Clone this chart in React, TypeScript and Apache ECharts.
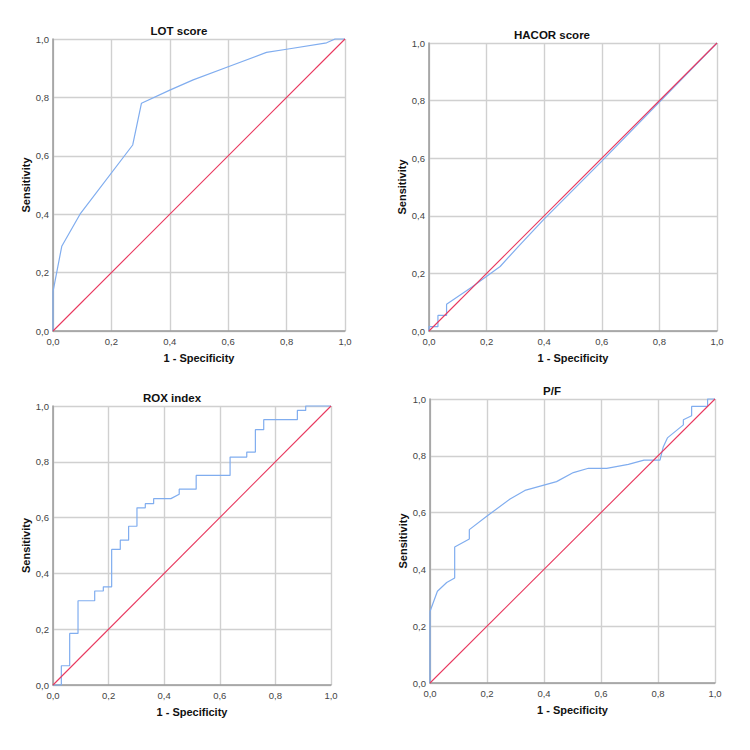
import React, { useEffect, useRef } from "react";
import * as echarts from "echarts";

const panelTitles = ["LOT score", "HACOR score", "ROX index", "P/F"];
const tickLabels = ["0,0", "0,2", "0,4", "0,6", "0,8", "1,0"];

const lotFpr = [0, 0, 0.03, 0.0925, 0.273, 0.303, 0.4, 0.48, 0.6, 0.731, 0.8, 0.937, 0.966, 1.0];
const lotTpr = [0, 0.135, 0.29, 0.4, 0.637, 0.78, 0.825, 0.86, 0.905, 0.954, 0.965, 0.987, 1.0, 1.0];

const hacorFpr = [0, 0, 0.031, 0.031, 0.061, 0.061, 0.148, 0.247, 0.31, 0.397, 0.6, 0.8, 1.0];
const hacorTpr = [0, 0.015, 0.015, 0.054, 0.054, 0.093, 0.152, 0.224, 0.293, 0.386, 0.59, 0.795, 1.0];

const roxFpr = [0, 0.03, 0.03, 0.06, 0.06, 0.09, 0.09, 0.15, 0.15, 0.181, 0.181, 0.211, 0.211, 0.242, 0.242, 0.272, 0.272, 0.302, 0.302, 0.332, 0.332, 0.362, 0.362, 0.424, 0.454, 0.454, 0.515, 0.515, 0.637, 0.637, 0.697, 0.697, 0.728, 0.728, 0.758, 0.758, 0.879, 0.879, 0.909, 0.909, 1.0];
const roxTpr = [0, 0, 0.069, 0.069, 0.185, 0.185, 0.302, 0.302, 0.337, 0.337, 0.352, 0.352, 0.486, 0.486, 0.519, 0.519, 0.569, 0.569, 0.635, 0.635, 0.65, 0.65, 0.668, 0.668, 0.684, 0.702, 0.702, 0.751, 0.751, 0.817, 0.817, 0.835, 0.835, 0.915, 0.915, 0.951, 0.951, 0.984, 0.984, 1.0, 1.0];

const pfFpr = [0, 0, 0.026, 0.0586, 0.0866, 0.0866, 0.138, 0.138, 0.199, 0.281, 0.333, 0.444, 0.503, 0.556, 0.62, 0.696, 0.751, 0.807, 0.818, 0.833, 0.889, 0.889, 0.918, 0.918, 0.974, 0.974, 1.0];
const pfTpr = [0, 0.252, 0.323, 0.354, 0.37, 0.479, 0.507, 0.54, 0.587, 0.648, 0.678, 0.709, 0.741, 0.756, 0.756, 0.77, 0.785, 0.785, 0.83, 0.863, 0.909, 0.927, 0.941, 0.974, 0.974, 1.0, 1.0];

const diagX = [0, 1];
const diagY = [0, 1];

const curves = [
  [lotFpr, lotTpr],
  [hacorFpr, hacorTpr],
  [roxFpr, roxTpr],
  [pfFpr, pfTpr],
];

// layout (pixels)
const grids = [
  { left: 53, top: 39, width: 292, height: 292 },
  { left: 429, top: 43, width: 288, height: 288 },
  { left: 53, top: 406, width: 278, height: 279 },
  { left: 430, top: 399, width: 285, height: 284 },
];
const titlePos = [
  [179, 31],
  [552, 35],
  [172, 398],
  [552, 391],
];

const FONT = '"Liberation Sans", Arial, sans-serif';
const BLUE = "#80adef";
const RED = "#e8385e";

function zip(xs: number[], ys: number[]) {
  return xs.map((x, i) => [x, ys[i]]);
}

export default function App() {
  const ref = useRef<HTMLDivElement>(null);
  useEffect(() => {
    if (!ref.current) return;
    const chart = echarts.init(ref.current, undefined, { renderer: "svg" });
    const fmt = (v: number) => tickLabels[Math.round(v / 0.2)] ?? "";
    const xAxis = grids.map((_, i) => ({
      type: "value",
      gridIndex: i,
      min: 0,
      max: 1,
      interval: 0.2,
      name: "1 - Specificity",
      nameLocation: "middle",
      nameGap: 21,
      nameTextStyle: { fontFamily: FONT, fontSize: 11, fontWeight: "bold", color: "#111" },
      axisLine: { show: true, lineStyle: { color: "#9a9a9a", width: 1.5 } },
      axisTick: { show: false },
      axisLabel: { formatter: fmt, fontFamily: FONT, fontSize: 9.5, color: "#444", margin: 5 },
      splitLine: { show: true, lineStyle: { color: "#d0d0d0", width: 1.4 } },
    }));
    const yAxis = grids.map((_, i) => ({
      type: "value",
      gridIndex: i,
      min: 0,
      max: 1,
      interval: 0.2,
      name: "Sensitivity",
      nameLocation: "middle",
      nameGap: 22,
      nameTextStyle: { fontFamily: FONT, fontSize: 11, fontWeight: "bold", color: "#111" },
      axisLine: { show: true, lineStyle: { color: "#9a9a9a", width: 1.5 } },
      axisTick: { show: false },
      axisLabel: { formatter: fmt, fontFamily: FONT, fontSize: 9.5, color: "#444", margin: 4 },
      splitLine: { show: true, lineStyle: { color: "#d0d0d0", width: 1.4 } },
    }));
    const series: any[] = [];
    curves.forEach(([xs, ys], i) => {
      series.push({
        type: "line",
        xAxisIndex: i,
        yAxisIndex: i,
        data: zip(xs, ys),
        showSymbol: false,
        symbol: "none",
        lineStyle: { color: BLUE, width: 1.2 },
        clip: false,
      });
      series.push({
        type: "line",
        xAxisIndex: i,
        yAxisIndex: i,
        data: zip(diagX, diagY),
        showSymbol: false,
        symbol: "none",
        lineStyle: { color: RED, width: 1.1 },
        clip: false,
      });
    });
    chart.setOption({
      animation: false,
      backgroundColor: "#fff",
      grid: grids.map((g) => ({ ...g, containLabel: false })),
      xAxis,
      yAxis,
      series,
      graphic: panelTitles.map((t, i) => ({
        type: "text",
        x: titlePos[i][0],
        y: titlePos[i][1],
        style: {
          text: t,
          align: "center",
          verticalAlign: "middle",
          fontFamily: FONT,
          fontSize: 11.5,
          fontWeight: "bold",
          fill: "#111",
        },
      })),
    });
    return () => chart.dispose();
  }, []);
  return (
    <div
      ref={ref}
      style={{ position: "absolute", left: 0, top: 0, width: 750, height: 750 }}
    />
  );
}
